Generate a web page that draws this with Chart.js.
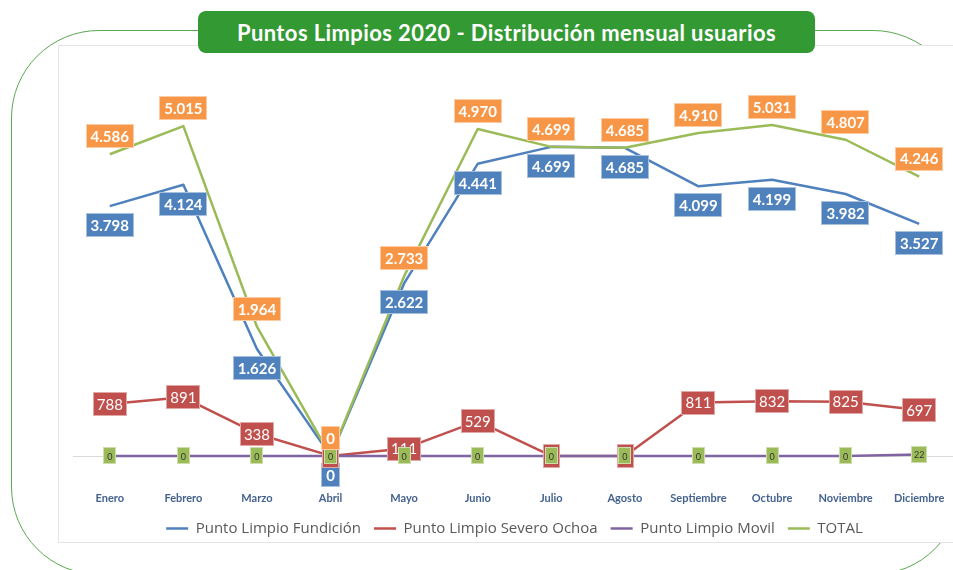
<!DOCTYPE html>
<html><head><meta charset="utf-8">
<script src="https://cdn.jsdelivr.net/npm/chart.js@4.4.1/dist/chart.umd.min.js"></script>
<style>
html,body{margin:0;padding:0;background:#fff;overflow:hidden;width:953px;height:570px;}
#frame{position:absolute;left:11px;top:30px;width:950px;height:545px;border:1.3px solid #5aa850;border-radius:88px;box-sizing:border-box;}
#panel{position:absolute;left:58px;top:45px;width:898px;height:498px;border:1px solid #e4e4e4;box-sizing:border-box;background:#fff;}
#wrap{position:absolute;left:58px;top:48px;width:898px;height:498px;}
#title{position:absolute;left:198px;top:11px;width:617px;height:42px;background:#339933;border-radius:8px;color:#fff;font:bold 22px Lato, sans-serif;letter-spacing:0.4px;display:flex;align-items:center;justify-content:center;}
</style>
</head>
<body>
<div id="frame"></div>
<div id="panel"></div>
<div id="wrap"><canvas id="c" width="898" height="498"></canvas></div>
<div id="title">Puntos Limpios 2020 - Distribución mensual usuarios</div>
<script>
const months = ['Enero','Febrero','Marzo','Abril','Mayo','Junio','Julio','Agosto','Septiembre','Octubre','Noviembre','Diciembre'];
const fundicion = [3798,4124,1626,0,2622,4441,4699,4685,4099,4199,3982,3527];
const severoOchoa = [788,891,338,0,111,529,0,0,811,832,825,697];
const movil = [0,0,0,0,0,0,0,0,0,0,0,22];
const total = [4586,5015,1964,0,2733,4970,4699,4685,4910,5031,4807,4246];
const seriesNames = ['Punto Limpio Fundición','Punto Limpio Severo Ochoa','Punto Limpio Movil','TOTAL'];

const BLUE='#4f81bd', RED='#c0504d', PURPLE='#8064a2', GREEN='#9bbb59', ORANGE='#f79646';

function fmt(v){ return String(v).replace(/\B(?=(\d{3})+(?!\d))/g,'.'); }

const labelCfg = [
  {ds:0, pos:'below', off:19, bg:BLUE, color:'#fff', font:'bold 15px Lato', h:24, padX:5},
  {ds:1, pos:'center', off:0, bg:RED, color:'#fff', font:'15px Lato', h:24, padX:4},
  {ds:2, pos:'center', off:0, bg:GREEN, color:'#333', font:'9px Lato', h:17, padX:3, minW:13},
  {ds:3, pos:'above', off:18, bg:ORANGE, color:'#fff', font:'bold 15px Lato', h:24, padX:5}
];

const boxLabels = {
  id:'boxLabels',
  beforeDatasetsDraw(chart){
    const ctx=chart.ctx, a=chart.chartArea, y0=chart.scales.y.getPixelForValue(0);
    ctx.save();
    ctx.strokeStyle='#d9d9d9'; ctx.lineWidth=1;
    ctx.beginPath(); ctx.moveTo(a.left, Math.round(y0)+0.5); ctx.lineTo(a.right, Math.round(y0)+0.5); ctx.stroke();
    ctx.restore();
  },
  afterDatasetsDraw(chart){
    const ctx=chart.ctx;
    ctx.save();
    labelCfg.forEach(c=>{
      const meta=chart.getDatasetMeta(c.ds);
      const data=chart.data.datasets[c.ds].data;
      meta.data.forEach((pt,i)=>{
        const txt=fmt(data[i]);
        ctx.font=c.font;
        let w=ctx.measureText(txt).width+c.padX*2;
        if(c.minW) w=Math.max(w,c.minW);
        const h=c.h;
        const cy = pt.y + (c.pos==='below'?c.off:(c.pos==='above'?-c.off:0));
        const x=Math.round(pt.x-w/2), y=Math.round(cy-h/2);
        ctx.fillStyle=c.bg;
        ctx.fillRect(x,y,Math.round(w),h);
        ctx.strokeStyle='rgba(255,255,255,0.5)'; ctx.lineWidth=1;
        ctx.strokeRect(x+0.5,y+0.5,Math.round(w)-1,h-1);
        ctx.fillStyle=c.color; ctx.textAlign='center'; ctx.textBaseline='middle';
        ctx.fillText(txt, pt.x, cy+1);
      });
    });
    ctx.restore();
  }
};

const lineDs = (label,data,color,order)=>({label,data,borderColor:color,backgroundColor:color,borderWidth:2.5,pointRadius:0,pointHoverRadius:0,tension:0,order,borderJoinStyle:'round',clip:false});

new Chart(document.getElementById('c'),{
  type:'line',
  data:{labels:months,datasets:[
    lineDs(seriesNames[0],fundicion,BLUE,3),
    lineDs(seriesNames[1],severoOchoa,RED,2),
    lineDs(seriesNames[2],movil,PURPLE,1),
    lineDs(seriesNames[3],total,GREEN,0)
  ]},
  options:{
    responsive:false, animation:false, devicePixelRatio:1,
    layout:{padding:{left:15,right:0,top:10,bottom:0}},
    scales:{
      x:{offset:true, grid:{display:false,drawTicks:false}, border:{display:false},
         ticks:{color:'#44628f', font:{family:'Lato',size:11,weight:'bold'}, padding:3, maxRotation:0, autoSkip:false}},
      y:{display:false, min:-500, max:6050}
    },
    plugins:{
      legend:{position:'bottom', labels:{usePointStyle:true, pointStyle:'line', pointStyleWidth:22, padding:13, color:'#595959', font:{family:'Open Sans',size:15}, sort:(a,b)=>a.datasetIndex-b.datasetIndex}},
      tooltip:{enabled:false}, title:{display:false}
    }
  },
  plugins:[boxLabels]
});
</script>
</body></html>
